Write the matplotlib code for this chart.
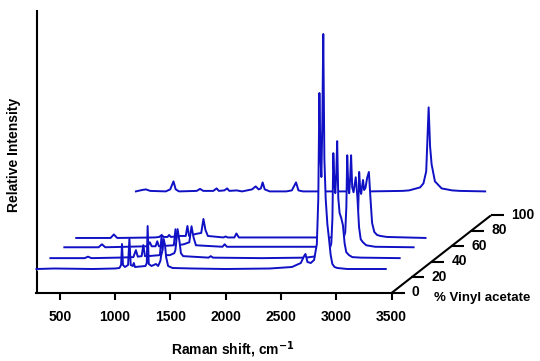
import numpy as np
import matplotlib
matplotlib.use('Agg')
import matplotlib.pyplot as plt

# =====================================================================
# DATA
# =====================================================================
VA_PCT = [0, 14, 28, 40, 100]

# 0 % vinyl acetate (polyethylene)
WN_0 = [290, 450, 600, 800, 1000, 1040, 1055, 1063, 1072, 1090, 1118, 1130, 1142, 1160, 1170, 1180,
        1275, 1287, 1295, 1305, 1330, 1370, 1390, 1410, 1418, 1430, 1440, 1452, 1462, 1480, 1520,
        1700, 2000, 2400, 2600, 2680, 2710, 2722, 2740, 2770, 2800, 2825, 2838, 2848, 2858, 2866,
        2875, 2883, 2893, 2905, 2920, 2935, 2950, 2965, 2985, 3010, 3100, 3448]
INT_0 = [0, 0.5, 0.3, 0, 0.5, 1, 4, 25, 4, 2, 4, 30, 4, 3, 6, 2,
         3, 6, 43, 5, 3, 5, 3, 8, 14, 19, 30, 24, 12, 3, 1,
         0.5, 0, 0.5, 2, 6, 13, 15, 7, 6, 9, 25, 70, 176, 110, 92,
         150, 235, 110, 70, 45, 30, 14, 5, 2, 1, 0, 0]

# 14 %
WN_14 = [290, 600, 630, 660, 900, 1040, 1063, 1080, 1115, 1130, 1145, 1170, 1280, 1295, 1310, 1370,
         1410, 1420, 1440, 1458, 1470, 1490, 1720, 1740, 1760, 2200, 2600, 2700, 2722, 2740, 2800,
         2830, 2840, 2848, 2858, 2866, 2875, 2883, 2893, 2905, 2920, 2935, 2950, 2965, 2990, 3020,
         3100, 3448]
INT_14 = [0, 0, 1.5, 0, 0.5, 1, 8, 1.5, 2, 13, 2, 2, 3, 22, 3, 3,
          5, 8, 29, 16, 5, 2, 0.5, 2, 0.5, 0, 0.5, 2, 4, 2, 3,
          15, 40, 105, 75, 65, 85, 117, 60, 45, 40, 33, 15, 6, 3, 1,
          0.5, 0]

# 28 %
WN_28 = [290, 600, 630, 660, 1040, 1063, 1080, 1115, 1130, 1145, 1280, 1295, 1310, 1370, 1420, 1440,
         1458, 1480, 1720, 1740, 1760, 2600, 2800, 2830, 2840, 2848, 2858, 2866, 2875, 2883, 2893,
         2905, 2925, 2940, 2955, 2970, 2990, 3020, 3100, 3448]
INT_28 = [0, 0, 3, 0, 1, 5, 1, 1, 6, 1, 2, 18, 2, 3, 5, 21,
          10, 2, 0.5, 3, 0.5, 0.5, 3, 15, 40, 92, 60, 54, 70, 92, 60,
          55, 70, 50, 20, 8, 5, 2, 0.5, 0]

# 40 %
WN_40 = [290, 600, 630, 660, 1000, 1040, 1063, 1080, 1115, 1130, 1145, 1230, 1280, 1295, 1310, 1370,
         1420, 1440, 1458, 1480, 1620, 1640, 1660, 1720, 1738, 1760, 2600, 2800, 2830, 2840, 2848,
         2858, 2866, 2875, 2883, 2893, 2905, 2920, 2936, 2950, 2965, 2985, 3010, 3040, 3100, 3448]
INT_40 = [0, 0, 3.5, 0, 0.5, 1, 3, 1, 1, 3, 1, 2, 2, 12, 2, 4,
          5, 19, 8, 2, 0.5, 1.5, 0.5, 0.5, 4.5, 0.5, 0.5, 3, 12, 30, 66,
          48, 44, 52, 58, 48, 50, 60, 66, 40, 15, 6, 3, 2, 1, 0]

# 100 % (poly vinyl acetate)
WN_100 = [290, 350, 380, 420, 560, 600, 630, 650, 680, 840, 870, 900, 990, 1020, 1040, 1090,
          1115, 1135, 1200, 1250, 1340, 1373, 1400, 1420, 1436, 1455, 1500, 1650, 1700, 1738, 1760,
          1800, 2400, 2700, 2760, 2860, 2890, 2915, 2937, 2950, 2964, 2994, 3054, 3150, 3220, 3448]
INT_100 = [0, 1.5, 2, 0.5, 0, 2, 10, 2, 0, 0.5, 2.5, 0.5, 0.5, 3, 0.5, 1,
           3, 0.5, 1, 0, 2, 5, 2, 3, 9, 2, 0, 0, 1, 9, 1,
           0, 0, 0.5, 1, 4, 8, 20, 84, 45, 27, 10, 3, 1, 0.5, 0]

SPECTRA = [(WN_0, INT_0), (WN_14, INT_14), (WN_28, INT_28), (WN_40, INT_40), (WN_100, INT_100)]

X_TICKS = [500, 1000, 1500, 2000, 2500, 3000, 3500]
DEPTH_TICKS = [0, 20, 40, 60, 80, 100]

# =====================================================================
# PSEUDO-3D GEOMETRY
# =====================================================================
XMIN, XMAX = 290, 3500
CM_PER_PX = (XMAX - XMIN) / 355.0
DX = 0.994 * CM_PER_PX   # shift in cm-1 per % vinyl acetate
DY = 0.776               # shift in y (px units) per % vinyl acetate
BASE = 24                # height of the 0 % baseline above the x axis

LINE_COL = '#1010c4'

plt.rcParams['font.family'] = ['Liberation Sans', 'DejaVu Sans']

fig = plt.figure(figsize=(5.4, 3.61), dpi=100)
ax = fig.add_axes([36.5 / 540, (361 - 293) / 361, 355 / 540, 282 / 361])
ax.set_xlim(XMIN, XMAX)
ax.set_ylim(0, 282)

# back traces first, every trace hides what lies behind it
for k in range(len(SPECTRA) - 1, -1, -1):
    wn, inten = SPECTRA[k]
    pct = VA_PCT[k]
    x = np.array(wn) + pct * DX
    y = np.array(inten) + BASE + pct * DY
    z = 10 + 2 * (len(SPECTRA) - k)
    ax.fill_between(x, y, BASE + pct * DY - 1, color='white', lw=0, zorder=z, clip_on=False)
    ax.plot(x, y, color=LINE_COL, lw=1.4, zorder=z + 0.5, clip_on=False)

# depth axis
ax.plot([XMAX, XMAX + 100 * DX], [0, 100 * DY], color='black', lw=1.5,
        clip_on=False, zorder=40, solid_capstyle='butt')
for p in DEPTH_TICKS:
    x0 = XMAX + p * DX
    y0 = p * DY
    ax.plot([x0, x0 + 13 * CM_PER_PX], [y0, y0], color='black', lw=1.5,
            clip_on=False, zorder=40, solid_capstyle='butt')
    ax.text(x0 + 20 * CM_PER_PX, y0 + 0.5, str(p), ha='left', va='center',
            fontsize=10, fontweight='bold', clip_on=False)

fig.text(434 / 540, 1 - 298 / 361, '% Vinyl acetate', ha='left', va='center',
         fontsize=9.5, fontweight='bold')

# axes styling
for s in ['top', 'right']:
    ax.spines[s].set_visible(False)
for s in ['left', 'bottom']:
    ax.spines[s].set_linewidth(1.5)
ax.set_yticks([])
ax.set_xticks(X_TICKS)
ax.set_xticklabels([str(t) for t in X_TICKS], fontweight='bold')
ax.tick_params(axis='x', direction='out', length=5, width=1.5, pad=7, labelsize=10)

fig.text(233 / 540, 1 - 350 / 361, 'Raman shift, cm$^{\\mathbf{-1}}$', ha='center', va='center',
         fontsize=10, fontweight='bold')
fig.text(14 / 540, 1 - 155 / 361, 'Relative Intensity', ha='center', va='center',
         rotation=90, fontsize=10, fontweight='bold')

fig.savefig('out.png', dpi=100)
